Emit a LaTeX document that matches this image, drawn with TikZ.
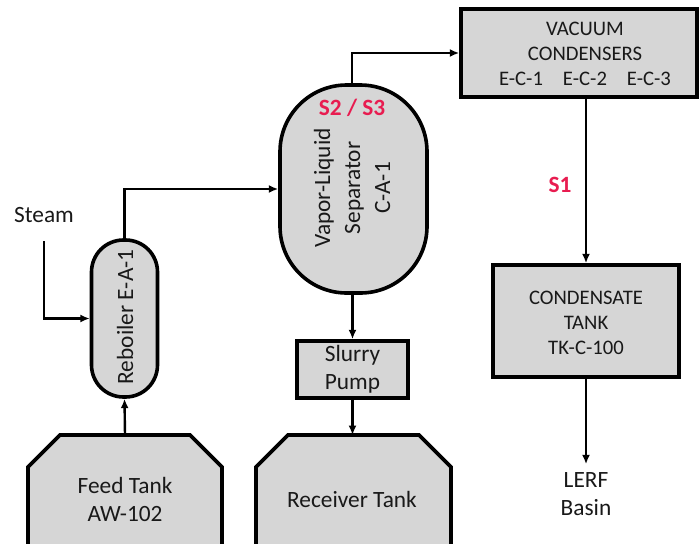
\documentclass[tikz,border=0pt]{standalone}
\usepackage{fontspec}
\setmainfont{Carlito}
\usetikzlibrary{arrows.meta}
\definecolor{boxgray}{RGB}{214,214,214}
\definecolor{txt}{RGB}{25,25,25}
\definecolor{sred}{RGB}{232,28,80}
\tikzset{
  unit/.style={draw=black, line width=2.7pt, fill=boxgray, inner sep=0pt},
  tankline/.style={draw=black, line width=2.7pt, fill=boxgray, line join=miter},
  lbl/.style={text=txt, font=\fontsize{17.5}{21}\selectfont, align=center, inner sep=1pt},
  caps/.style={text=txt, font=\fontsize{15.5}{19}\selectfont, align=center, inner sep=1pt},
  tag/.style={text=sred, font=\fontsize{17.5}{21}\selectfont\bfseries, inner sep=1pt},
  arr/.style={draw=black, line width=1.8pt, -{Latex[length=7pt,width=6pt]}}
}
\begin{document}
\begin{tikzpicture}[x=0.75pt,y=-0.75pt]
\useasboundingbox (0,0) rectangle (699,543);
\fill[white] (0,0) rectangle (699,543);
\begin{scope}
\clip (0,0) rectangle (699,543);
% tanks
\draw[tankline] (28,560) -- (28,467) -- (60,435) -- (190,435) -- (222,467) -- (222,560);
\coordinate (feedtop) at (125,435);
\node[lbl] (feedtxt) at (125,499) {Feed Tank\\AW-102};
\draw[tankline] (256,560) -- (256,467) -- (288,435) -- (419,435) -- (451,467) -- (451,560);
\coordinate (recvtop) at (352.5,435);
\node[lbl] (recvtxt) at (352,499) {Receiver Tank};
% units
\node[unit, rounded corners=24pt, minimum width=49.5pt, minimum height=117.75pt] (reb) at (124.5,318.5) {};
\node[lbl, rotate=90] (rebtxt) at (125,317) {Reboiler E-A-1};
\node[unit, rounded corners=50pt, minimum width=110.25pt, minimum height=156pt] (sep) at (353.5,189) {};
\node[lbl, rotate=90, font=\fontsize{17.5}{22.5}\selectfont] (septxt) at (352,188) {Vapor-Liquid\\Separator\\C-A-1};
\node[tag] (s23) at (352,108) {S2 / S3};
\node[unit, minimum width=177pt, minimum height=66pt] (vac) at (579,53) {};
\node[caps] (vactxt) at (585,54) {VACUUM\\CONDENSERS\\E-C-1\hspace{15pt}E-C-2\hspace{15pt}E-C-3};
\node[unit, minimum width=139.5pt, minimum height=84pt] (cond) at (586,321) {};
\node[caps] (condtxt) at (586,323) {CONDENSATE\\TANK\\TK-C-100};
\node[unit, minimum width=83.25pt, minimum height=42.75pt] (pump) at (352.5,369.5) {};
\node[lbl] (pumptxt) at (352.5,369) {Slurry\\Pump};
\node[lbl] (steam) at (44,215) {Steam};
\node[lbl] (lerf) at (586,494) {LERF\\Basin};
\node[tag] (s1) at (560,185) {S1};
% connectors
\coordinate (st) at (44,241);
\draw[arr] (st) |- (reb.west);
\draw[arr] (reb.north) |- (sep.west);
\draw[arr] ([xshift=-1pt]sep.north) |- (vac.west);
\draw[arr] (vac.south -| cond.north) -- (cond.north);
\draw[arr] (cond.south) -- ([yshift=5pt]lerf.north);
\draw[arr] (sep.south -| pump.north) -- (pump.north);
\draw[arr] (pump.south) -- (pump.south |- recvtop);
\draw[arr] (feedtop) -- (reb.south);
\end{scope}
\end{tikzpicture}
\end{document}
